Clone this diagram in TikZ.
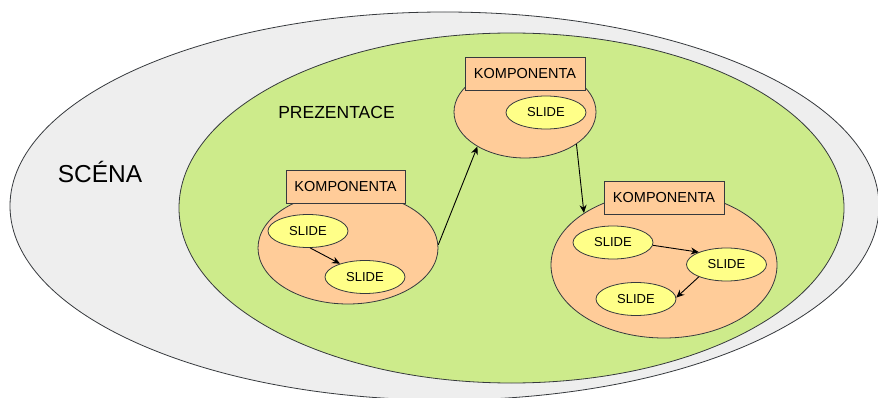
\documentclass[tikz,border=0pt]{standalone}
\usepackage{fontspec}
\setmainfont{Liberation Sans}
\usetikzlibrary{shapes.geometric,arrows.meta}
\definecolor{edgecol}{HTML}{36393D}
\definecolor{scenefill}{HTML}{EEEEEE}
\definecolor{presfill}{HTML}{CDEB8B}
\definecolor{peach}{HTML}{FFCC99}
\definecolor{slideyellow}{HTML}{FFFF88}
\begin{document}
\begin{tikzpicture}[x=1pt,y=-1pt,
  outline/.style={draw=edgecol, line width=0.8pt},
  region/.style={outline, ellipse, inner sep=0pt},
  comp/.style={region, fill=peach},
  compbox/.style={outline, fill=peach, minimum width=120pt, minimum height=33pt,
    inner sep=0pt, font=\fontsize{14.5}{16}\selectfont},
  slide/.style={region, fill=slideyellow, minimum width=80pt, minimum height=33pt,
    font=\fontsize{13}{15}\selectfont},
  flow/.style={draw=black, line width=0.9pt, -{Stealth[length=8pt,width=7pt]}}]
\useasboundingbox (0,0) rectangle (878,398);
\fill[white] (0,0) rectangle (878,398);

% scene and presentation
\node[region, fill=scenefill, minimum width=869pt, minimum height=388pt] (scene) at (444.5,206) {};
\node[region, fill=presfill, minimum width=665pt, minimum height=350pt] (pres) at (511.5,208) {};
\node[anchor=base, font=\fontsize{24.5}{28}\selectfont] (scenelabel) at (100,183) {SCÉNA};
\node[anchor=base, font=\fontsize{17.5}{20}\selectfont] (preslabel) at (336.5,119) {PREZENTACE};

% component 1
\node[comp, minimum width=180pt, minimum height=112pt] (c1) at (348,248) {};
\node[compbox, minimum width=119pt] (b1) at (345.5,186.5) {KOMPONENTA};
\node[slide] (s11) at (308,231) {SLIDE};
\node[slide] (s12) at (365,277) {SLIDE};

% component 2
\node[comp, minimum width=142pt, minimum height=92pt] (c2) at (525,112) {};
\node[compbox] (b2) at (525,73.5) {KOMPONENTA};
\node[slide] (s21) at (546,112.5) {SLIDE};

% component 3
\node[comp, minimum width=226pt, minimum height=146pt] (c3) at (664,265) {};
\node[compbox] (b3) at (664,197.5) {KOMPONENTA};
\node[slide] (s31) at (613,242.5) {SLIDE};
\node[slide] (s32) at (726.5,264.5) {SLIDE};
\node[slide] (s33) at (636,299) {SLIDE};

% transitions
\draw[flow] (c1.2) -- (c2.216);
\draw[flow] (c2.328) -- (c3.147);
\draw[flow] (s11.277) -- (s12.152);
\draw[flow] (s31.356) -- (s32.156);
\draw[flow] (s32.204) -- (s33.2);
\end{tikzpicture}
\end{document}
